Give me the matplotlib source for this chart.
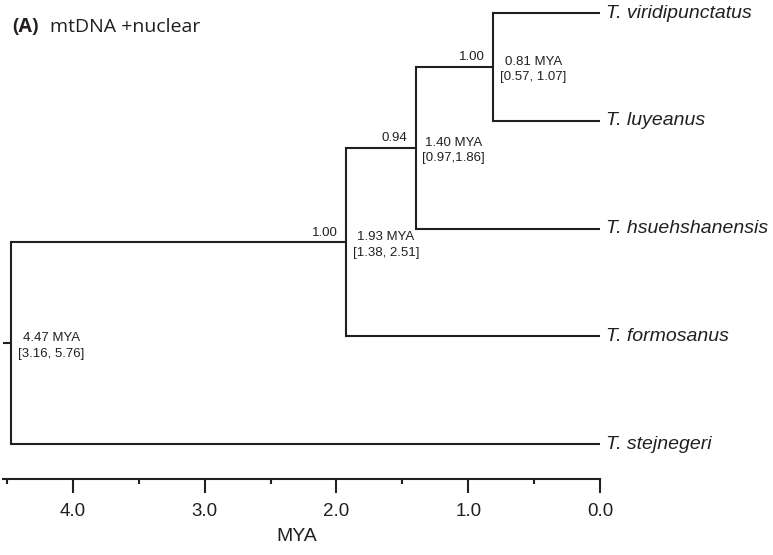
import matplotlib
matplotlib.use("Agg")
import matplotlib.pyplot as plt
from matplotlib.ticker import FixedLocator, FormatStrFormatter

# ---- data ----
taxa = ["T. viridipunctatus", "T. luyeanus", "T. hsuehshanensis",
        "T. formosanus", "T. stejnegeri"]
node_names = ["n081", "n140", "n193", "root"]
node_ages = [0.81, 1.40, 1.93, 4.47]
node_children = [("T. viridipunctatus", "T. luyeanus"),
                 ("n081", "T. hsuehshanensis"),
                 ("n140", "T. formosanus"),
                 ("n193", "T. stejnegeri")]
node_support = ["1.00", "0.94", "1.00", None]
node_hpd = ["[0.57, 1.07]", "[0.97,1.86]", "[1.38, 2.51]", "[3.16, 5.76]"]
major_ticks = [4.0, 3.0, 2.0, 1.0, 0.0]
minor_ticks = [4.5, 3.5, 2.5, 1.5, 0.5]

LC = "#231f20"
LW = 1.5
SANS = ["Liberation Sans", "DejaVu Sans"]

fig = plt.figure(figsize=(7.73, 5.55), dpi=100)
ax = fig.add_axes([0, 0, 1, 1])
ax.set_xlim(4.554, -1.313)
ax.set_ylim(5.030, -0.1207)

# positions
ypos = {t: i for i, t in enumerate(taxa)}
age = {t: 0.0 for t in taxa}
for name, a, (c1, c2) in zip(node_names, node_ages, node_children):
    ypos[name] = (ypos[c1] + ypos[c2]) / 2.0
    age[name] = a

# branches
for name, a, (c1, c2) in zip(node_names, node_ages, node_children):
    ax.plot([a, a], [ypos[c1], ypos[c2]], color=LC, lw=LW,
            solid_capstyle="projecting")
    for c in (c1, c2):
        ax.plot([a, age[c]], [ypos[c], ypos[c]], color=LC, lw=LW,
                solid_capstyle="butt")
# root stub
root_age = node_ages[-1]
ax.plot([root_age, root_age + 0.06], [ypos["root"], ypos["root"]],
        color=LC, lw=LW, solid_capstyle="butt")

# tip labels
for t in taxa:
    ax.annotate(t, (0.0, ypos[t]), xytext=(4, 0), textcoords="offset points",
                ha="left", va="center", fontsize=14, style="italic",
                family=SANS, color=LC)

# node labels
for name, a, sup, hpd in zip(node_names, node_ages, node_support, node_hpd):
    y = ypos[name]
    ax.annotate(f"{a:.2f} MYA\n{hpd}", (a, y), xytext=(5, -2),
                textcoords="offset points", ha="left", va="center",
                multialignment="center", fontsize=9.5, family=SANS,
                color=LC, linespacing=1.4)
    if sup is not None:
        ax.annotate(sup, (a, y), xytext=(-6, 2.5), textcoords="offset points",
                    ha="right", va="bottom", fontsize=9.5, family=SANS, color=LC)

# time axis
for s in ["top", "left", "right"]:
    ax.spines[s].set_visible(False)
ax.spines["bottom"].set_position(("data", 4.325))
ax.spines["bottom"].set_bounds(4.53, 0.0)
ax.spines["bottom"].set_linewidth(LW)
ax.spines["bottom"].set_color(LC)
ax.xaxis.set_major_locator(FixedLocator(major_ticks))
ax.xaxis.set_minor_locator(FixedLocator(minor_ticks))
ax.xaxis.set_major_formatter(FormatStrFormatter("%.1f"))
ax.tick_params(axis="x", which="major", direction="out", length=10,
               width=LW, color=LC, pad=7, labelsize=13.5, labelcolor=LC)
ax.tick_params(axis="x", which="minor", direction="out", length=3.5,
               width=LW, color=LC)
for lab in ax.get_xticklabels():
    lab.set_family(SANS)
ax.set_yticks([])
ax.set_xlabel("MYA", fontsize=14, family=SANS, color=LC)
ax.xaxis.set_label_coords(297 / 773, 1 - 528 / 555)

# panel title
fig.text(12 / 773, 1 - 27 / 555, "(A)", fontsize=14, fontweight="bold",
         family=["Open Sans", "DejaVu Sans"], va="center", ha="left", color=LC)
fig.text(50 / 773, 1 - 27 / 555, "mtDNA +nuclear", fontsize=14,
         family=["Open Sans", "DejaVu Sans"], va="center", ha="left", color=LC)

fig.savefig("out.png", dpi=100)
